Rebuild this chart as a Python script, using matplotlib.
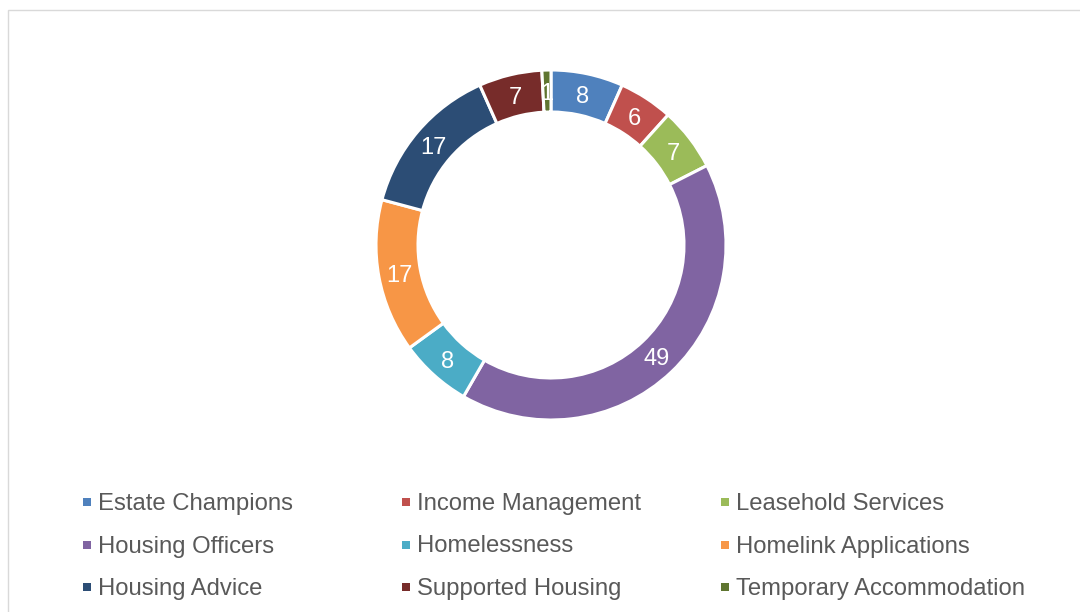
import matplotlib
matplotlib.use("Agg")
import matplotlib.pyplot as plt
from matplotlib.patches import Rectangle
import numpy as np

categories = ["Estate Champions", "Income Management", "Leasehold Services",
              "Housing Officers", "Homelessness", "Homelink Applications",
              "Housing Advice", "Supported Housing", "Temporary Accommodation"]
values = [8, 6, 7, 49, 8, 17, 17, 7, 1]
colors = ["#4F81BD", "#C0504D", "#9BBB59", "#8064A2", "#4BACC6",
          "#F79646", "#2C4D75", "#772C2A", "#5F7530"]

plt.rcParams['font.family'] = ['Liberation Sans', 'DejaVu Sans']

W, H = 1080, 612
fig = plt.figure(figsize=(W / 100, H / 100), dpi=100)

# chart area border
fig.patches.append(Rectangle((8 / W, -0.1), 1.2, (H - 10) / H + 0.1,
                             transform=fig.transFigure, fill=False,
                             edgecolor="#D9D9D9", linewidth=1))

cx, cy, r = 551, 245, 175
ax = fig.add_axes([(cx - r) / W, (H - cy - r) / H, 2 * r / W, 2 * r / H])
hole = 0.76
wedges, _ = ax.pie(values, colors=colors, startangle=90, counterclock=False,
                   radius=1, wedgeprops=dict(width=1 - hole, edgecolor="white",
                                             linewidth=2.2))
total = sum(values)
ang = 90.0
rl = (1 + hole) / 2
for v in values:
    mid = ang - v / total * 360 / 2
    ang -= v / total * 360
    x, y = rl * np.cos(np.radians(mid)), rl * np.sin(np.radians(mid))
    ax.annotate(str(v), (x, y), xytext=(0, -2), textcoords="offset points",
                ha="center", va="center", color="white", fontsize=17)
ax.set_xlim(-1, 1)
ax.set_ylim(-1, 1)
ax.set_aspect("equal")
ax.axis("off")

# legend (row-major, 3 columns)
col_x = [83, 402, 721]
row_y = [510, 552.5, 595]   # text baselines
for i, (name, c) in enumerate(zip(categories, colors)):
    row, col = divmod(i, 3)
    mx, by = col_x[col], row_y[row]
    fig.patches.append(Rectangle((mx / W, (H - by + 4) / H), 8 / W, 8 / H,
                                 transform=fig.transFigure, facecolor=c,
                                 edgecolor="none"))
    fig.text((mx + 15) / W, (H - by) / H, name, ha="left", va="baseline",
             color="#595959", fontsize=17.2)

fig.savefig("out.png", dpi=100)
